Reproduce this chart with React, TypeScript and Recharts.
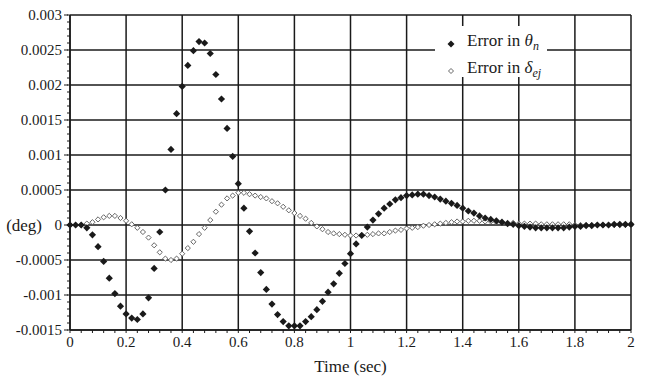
import { ReferenceLine, Scatter, ScatterChart, XAxis, YAxis } from "recharts";

const time = [
  0, 0.02, 0.04, 0.06, 0.08, 0.1, 0.12, 0.14, 0.16, 0.18,
  0.2, 0.22, 0.24, 0.26, 0.28, 0.3, 0.32, 0.34, 0.36, 0.38,
  0.4, 0.42, 0.44, 0.46, 0.48, 0.5, 0.52, 0.54, 0.56, 0.58,
  0.6, 0.62, 0.64, 0.66, 0.68, 0.7, 0.72, 0.74, 0.76, 0.78,
  0.8, 0.82, 0.84, 0.86, 0.88, 0.9, 0.92, 0.94, 0.96, 0.98,
  1, 1.02, 1.04, 1.06, 1.08, 1.1, 1.12, 1.14, 1.16, 1.18,
  1.2, 1.22, 1.24, 1.26, 1.28, 1.3, 1.32, 1.34, 1.36, 1.38,
  1.4, 1.42, 1.44, 1.46, 1.48, 1.5, 1.52, 1.54, 1.56, 1.58,
  1.6, 1.62, 1.64, 1.66, 1.68, 1.7, 1.72, 1.74, 1.76, 1.78,
  1.8, 1.82, 1.84, 1.86, 1.88, 1.9, 1.92, 1.94, 1.96, 1.98,
  2,
];

// error in theta_n (filled diamonds)
const thetaErr = [
  0, 0, 0, -0.00004, -0.00014, -0.00031, -0.00052, -0.00076, -0.00098, -0.00116,
  -0.00127, -0.00133, -0.00135, -0.00127, -0.00104, -0.00062, -0.0001, 0.0005, 0.00108, 0.00159,
  0.00198, 0.00228, 0.00249, 0.00262, 0.0026, 0.00245, 0.00215, 0.0018, 0.00138, 0.00098,
  0.00059, 0.00024, -0.00009, -0.0004, -0.00068, -0.00092, -0.00113, -0.00128, -0.00138, -0.00144,
  -0.00144, -0.00144, -0.00138, -0.00131, -0.00121, -0.00109, -0.00096, -0.00084, -0.00069, -0.00055,
  -0.00041, -0.00027, -0.00015, -0.00003, 0.00007, 0.00016, 0.00024, 0.0003, 0.00036, 0.00039,
  0.00042, 0.00043, 0.00044, 0.00044, 0.00042, 0.0004, 0.00037, 0.00034, 0.00031, 0.00028,
  0.00024, 0.0002, 0.00017, 0.00013, 0.0001, 0.00008, 0.00006, 0.00004, 0.00002, 0.00001,
  -0.00001, -0.00002, -0.00003, -0.00004, -0.00004, -0.00004, -0.00004, -0.00004, -0.00004, -0.00003,
  -0.00002, -0.00002, -0.00001, -0.00001, 0, 0, 0, 0.00001, 0.00001, 0.00001,
  0.00001,
];

// error in delta_ej (open diamonds)
const deltaErr = [
  0, 0, 0, 0.00002, 0.00004, 0.00008, 0.00011, 0.00013, 0.00013, 0.0001,
  0.00006, 0.00001, -0.00004, -0.0001, -0.00018, -0.00029, -0.00039, -0.00048, -0.0005, -0.00048,
  -0.00041, -0.00033, -0.00024, -0.00013, -0.00004, 0.00007, 0.00019, 0.00029, 0.00038, 0.00042,
  0.00046, 0.00046, 0.00044, 0.00042, 0.0004, 0.00038, 0.00034, 0.00031, 0.00026, 0.00021,
  0.00017, 0.00013, 0.00009, 0.00003, -0.00002, -0.00006, -0.0001, -0.00012, -0.00013, -0.00014,
  -0.00015, -0.00015, -0.00014, -0.00014, -0.00013, -0.00012, -0.00012, -0.0001, -0.00008, -0.00007,
  -0.00005, -0.00004, -0.00003, -0.00001, 0, 0.00001, 0.00002, 0.00003, 0.00004, 0.00005,
  0.00005, 0.00006, 0.00006, 0.00006, 0.00005, 0.00005, 0.00004, 0.00004, 0.00003, 0.00003,
  0.00002, 0.00002, 0.00002, 0.00002, 0.00001, 0.00001, 0.00001, 0.00001, 0.00001, 0.00001,
  0, 0, 0, 0, 0, 0, 0, 0, 0, 0,
  0,
];

const xTicks = [0, 0.2, 0.4, 0.6, 0.8, 1, 1.2, 1.4, 1.6, 1.8, 2];
const yTicks = [-0.0015, -0.001, -0.0005, 0, 0.0005, 0.001, 0.0015, 0.002, 0.0025, 0.003];
const xMinorTicks = Array.from({ length: 51 }, (_, i) => i * 0.04);
const yMinorTicks = Array.from({ length: 46 }, (_, i) => -0.0015 + i * 0.0001);

const thetaData = time.map((t, i) => ({ t, v: thetaErr[i] }));
const deltaData = time.map((t, i) => ({ t, v: deltaErr[i] }));

const FONT = "Liberation Serif";
const INK = "#1a1a1a";

const isMajor = (v: number, step: number) => Math.abs(v / step - Math.round(v / step)) < 1e-6;

const XTick = (props: any) => {
  const { x, y, payload } = props;
  const v = payload.value;
  if (!isMajor(v, 0.2)) return null;
  const label = String(Math.round(v * 10) / 10);
  return (
    <text x={x} y={y} dy={12} textAnchor="middle" fill={INK} fontSize={15} fontFamily={FONT}>
      {label}
    </text>
  );
};

const YTick = (props: any) => {
  const { x, y, payload } = props;
  const v = payload.value;
  if (!isMajor(v, 0.0005)) return null;
  const label = String(Math.round(v * 10000) / 10000);
  return (
    <g>
      <line x1={x + 2} x2={x + 6} y1={y} y2={y} stroke={INK} strokeWidth={1} />
      <text x={x} y={y} dy={5} textAnchor="end" fill={INK} fontSize={15} fontFamily={FONT}>
        {label}
      </text>
    </g>
  );
};

const FilledDiamond = (props: any) => {
  const { cx, cy } = props;
  const r = 3.6;
  return <polygon points={`${cx},${cy - r} ${cx + r},${cy} ${cx},${cy + r} ${cx - r},${cy}`} fill={INK} />;
};

const OpenDiamond = (props: any) => {
  const { cx, cy } = props;
  const r = 2.6;
  return (
    <polygon
      points={`${cx},${cy - r} ${cx + r},${cy} ${cx},${cy + r} ${cx - r},${cy}`}
      fill="#fff"
      stroke="#555"
      strokeWidth={0.9}
    />
  );
};

export default function App() {
  return (
    <div style={{ position: "absolute", left: 0, top: 0, width: 650, height: 380, background: "#fff", fontFamily: FONT }}>
      <ScatterChart width={650} height={380} margin={{ top: 15, right: 19, bottom: 0, left: 0 }}>
        {xTicks.map((v) => (
          <ReferenceLine key={`gx${v}`} x={v} stroke={INK} strokeWidth={1.5} />
        ))}
        {yTicks.map((v) => (
          <ReferenceLine key={`gy${v}`} y={v} stroke={INK} strokeWidth={1.5} />
        ))}
        <XAxis
          type="number"
          dataKey="t"
          domain={[0, 2]}
          ticks={xMinorTicks}
          interval={0}
          height={50}
          tickSize={3}
          tickMargin={2}
          axisLine={{ stroke: INK, strokeWidth: 1.5 }}
          tickLine={{ stroke: INK }}
          tick={<XTick />}
          label={{ value: "Time (sec)", position: "insideBottom", offset: 8, fill: INK, fontSize: 17, fontFamily: FONT }}
        />
        <YAxis
          type="number"
          dataKey="v"
          domain={[-0.0015, 0.003]}
          ticks={yMinorTicks}
          interval={0}
          width={70}
          tickSize={3}
          tickMargin={5}
          axisLine={{ stroke: INK, strokeWidth: 1.5 }}
          tickLine={{ stroke: INK }}
          tick={<YTick />}
        />
        <ReferenceLine
          y={0}
          stroke="none"
          label={{ value: "(deg)", position: "left", offset: 28, fill: INK, fontSize: 17, fontFamily: FONT }}
        />
        <Scatter data={deltaData} dataKey="v" shape={OpenDiamond} isAnimationActive={false} />
        <Scatter data={thetaData} dataKey="v" shape={FilledDiamond} isAnimationActive={false} />
      </ScatterChart>
      <div
        style={{
          position: "absolute",
          left: 435,
          top: 26,
          width: 112,
          height: 51,
          background: "#fff",
          color: INK,
          fontSize: 17,
          lineHeight: "22px",
          paddingTop: 4,
          boxSizing: "border-box",
          whiteSpace: "nowrap",
        }}
      >
        <div style={{ display: "flex", alignItems: "center" }}>
          <svg width={32} height={10}>
            <polygon points="16,1.5 19.5,5 16,8.5 12.5,5" fill={INK} />
          </svg>
          <span>
            Error in <i>θ</i>
            <sub style={{ fontSize: 12, fontStyle: "italic" }}>n</sub>
          </span>
        </div>
        <div style={{ display: "flex", alignItems: "center" }}>
          <svg width={32} height={10}>
            <polygon points="16,2.5 18.5,5 16,7.5 13.5,5" fill="#fff" stroke="#555" strokeWidth={0.9} />
          </svg>
          <span>
            Error in <i>δ</i>
            <sub style={{ fontSize: 12, fontStyle: "italic" }}>ej</sub>
          </span>
        </div>
      </div>
    </div>
  );
}
